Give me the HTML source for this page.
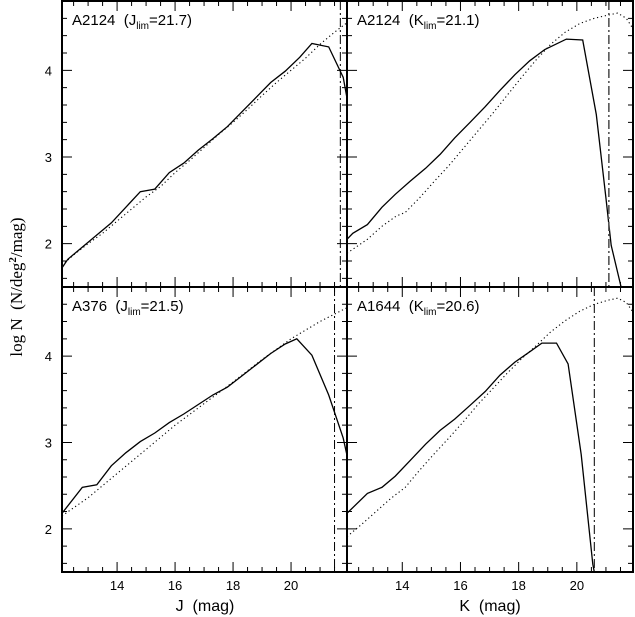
<!DOCTYPE html>
<html><head><meta charset="utf-8"><style>
body{margin:0;background:#fff}
svg{display:block;font-family:"Liberation Sans",sans-serif}
</style></head><body>
<svg id="c" width="635" height="617" viewBox="0 0 635 617"></svg>
<script>
const tlMag=[12.1,12.3,12.8,13.3,13.8,14.3,14.8,15.3,15.8,16.3,16.8,17.3,17.8,18.3,18.8,19.3,19.8,20.3,20.72,21.3,21.8,21.93];
const tlObs=[1.72,1.82,1.96,2.1,2.24,2.42,2.6,2.63,2.82,2.93,3.08,3.21,3.35,3.52,3.69,3.86,3.99,4.15,4.31,4.27,3.92,3.68];
const tlModMag=[12.1,12.5,13,13.5,14,14.5,15,15.5,16,16.5,17,17.5,18,18.5,19,19.5,20,20.5,21,21.5,21.93];
const tlMod=[1.75,1.87,2.0,2.12,2.26,2.4,2.54,2.66,2.82,2.96,3.11,3.26,3.4,3.55,3.71,3.86,4.0,4.14,4.3,4.44,4.55];
const trMag=[12.1,12.3,12.8,13.3,13.76,14.27,14.8,15.3,15.8,16.33,16.85,17.36,17.87,18.38,18.9,19.64,20.2,20.67,21.0,21.18,21.52];
const trObs=[2.05,2.12,2.22,2.42,2.57,2.72,2.87,3.03,3.22,3.4,3.58,3.77,3.95,4.11,4.24,4.36,4.35,3.49,2.53,1.98,1.5];
const trModMag=[12.1,12.8,13.3,13.8,14.1,14.6,15.1,15.6,16.1,16.6,17.1,17.6,18.1,18.6,19.1,19.6,20.1,20.6,21.1,21.4,21.7,21.95];
const trMod=[1.89,2.05,2.2,2.32,2.36,2.53,2.72,2.9,3.1,3.3,3.5,3.71,3.92,4.12,4.3,4.44,4.54,4.6,4.64,4.66,4.6,4.47];
const blMag=[12.1,12.8,13.3,13.8,14.3,14.8,15.3,15.8,16.3,16.8,17.3,17.8,18.3,18.8,19.3,19.8,20.2,20.72,21.3,21.8,21.93];
const blObs=[2.18,2.48,2.51,2.73,2.88,3.01,3.11,3.23,3.33,3.44,3.55,3.64,3.77,3.9,4.03,4.14,4.2,4.01,3.55,3.05,2.85];
const blModMag=[12.1,13,14,15,16,17,18,19,20,21,21.93];
const blMod=[2.15,2.36,2.64,2.92,3.2,3.45,3.7,3.96,4.2,4.4,4.56];
const brMag=[12.1,12.8,13.3,13.76,14.27,14.8,15.3,15.8,16.33,16.85,17.36,17.87,18.38,18.8,19.3,19.7,20.15,20.55,20.6];
const brObs=[2.18,2.41,2.48,2.61,2.79,2.98,3.14,3.27,3.43,3.59,3.78,3.93,4.05,4.15,4.15,3.91,2.86,1.59,1.5];
const brModMag=[12.1,12.6,13.1,13.6,14.1,14.6,15.1,15.6,16.1,16.6,17.1,17.6,18.1,18.6,19.1,19.6,20.1,20.6,21.1,21.4,21.7,21.95];
const brMod=[1.91,2.05,2.2,2.35,2.48,2.68,2.87,3.05,3.24,3.44,3.62,3.8,3.97,4.12,4.28,4.41,4.52,4.6,4.65,4.67,4.62,4.5];
const limits=[21.7,21.1,21.5,20.6];
const names=["A2124","A2124","A376","A1644"];
const bands=["J","K","J","K"];
const xTicks=[14,16,18,20];
const yTicks=[2,3,4];

const NS="http://www.w3.org/2000/svg";
const svg=document.getElementById('c');
function mk(t,a,p){const e=document.createElementNS(NS,t);for(const k in a)e.setAttribute(k,a[k]);(p||svg).appendChild(e);return e;}
const X0=12.1,X1=21.93,Y0=1.5,Y1=4.8;
const panels=[{l:62,r:347,t:1,b:287},{l:347,r:633,t:1,b:287},{l:62,r:347,t:287,b:572},{l:347,r:633,t:287,b:572}];
const series=[[tlMag,tlObs,tlModMag,tlMod],[trMag,trObs,trModMag,trMod],[blMag,blObs,blModMag,blMod],[brMag,brObs,brModMag,brMod]];
panels.forEach((p,i)=>{
  const g=mk('g',{});
  
  
  const sx=v=>p.l+(v-X0)/(X1-X0)*(p.r-p.l);
  const sy=v=>p.b-(v-Y0)/(Y1-Y0)*(p.b-p.t);
  const cp=mk('clipPath',{id:'cp'+i},g);mk('rect',{x:p.l,y:p.t,width:p.r-p.l,height:p.b-p.t},cp);
  let d='';
  for(let m=12.5;m<=21.9;m+=0.5){const x=sx(m),L=(Math.abs(m%2)<0.01)?10:5;d+=`M${x} ${p.b}v${-L}M${x} ${p.t}v${L}`;}
  for(let v=1.6;v<=4.81;v+=0.2){const y=sy(v),L=(Math.abs(v-Math.round(v))<0.01)?10:5;d+=`M${p.l} ${y}h${L}M${p.r} ${y}h${-L}`;}
  const tk=mk('path',{d:d,stroke:'#000','stroke-width':1,fill:'none'},g);
  
  const s=series[i];
  const line=(xs,ys)=>xs.map((x,j)=>(j?'L':'M')+sx(x).toFixed(1)+' '+sy(ys[j]).toFixed(1)).join('');
  const md=mk('path',{d:line(s[2],s[3]),stroke:'#000','stroke-width':1.1,fill:'none','stroke-dasharray':'1.2 2.8','clip-path':`url(#cp${i})`},g);
  
  const ob=mk('path',{d:line(s[0],s[1]),stroke:'#000','stroke-width':1.3,fill:'none','clip-path':`url(#cp${i})`},g);
  
  const lx=sx(limits[i]);
  const lm=mk('line',{x1:lx,x2:lx,y1:p.t,y2:p.b,stroke:i==1?'#555':'#000','stroke-width':i==1?1.6:1,'stroke-dasharray':'9 3 2 3'},g);
  
  const tx=mk('text',{x:p.l+10,y:p.t+24,'font-size':15},g);
  
  tx.innerHTML=`${names[i]}&#160;&#160;(${bands[i]}<tspan font-size="10" dy="4">lim</tspan><tspan dy="-4">=${limits[i]})</tspan>`;
  if(i%2==0){yTicks.forEach(v=>{const t=mk('text',{x:p.l-10,y:sy(v)+5,'font-size':13,'text-anchor':'end'},g);t.textContent=v;});}
  if(i>=2){xTicks.forEach(v=>{const t=mk('text',{x:sx(v),y:p.b+18,'font-size':13,'text-anchor':'middle'},g);t.textContent=v;});}
});
const fr=mk('path',{d:'M62 1H633V572H62ZM62 287H633M347 1V572',stroke:'#000','stroke-width':2,fill:'none'});

const xl1=mk('text',{x:205,y:611,'font-size':16,'text-anchor':'middle'});
xl1.innerHTML='J&#160;&#160;(mag)';
const xl2=mk('text',{x:490,y:611,'font-size':16,'text-anchor':'middle'});
xl2.innerHTML='K&#160;&#160;(mag)';
const yl=mk('text',{x:0,y:0,'font-size':17,'text-anchor':'middle','font-family':'Liberation Serif, serif',transform:'translate(22,287) rotate(-90)'});

yl.innerHTML='log&#160;N&#160;&#160;(N/deg<tspan font-size="11" font-weight="bold" dy="-6">2</tspan><tspan dy="6">/mag)</tspan>';
</script>
</body></html>
